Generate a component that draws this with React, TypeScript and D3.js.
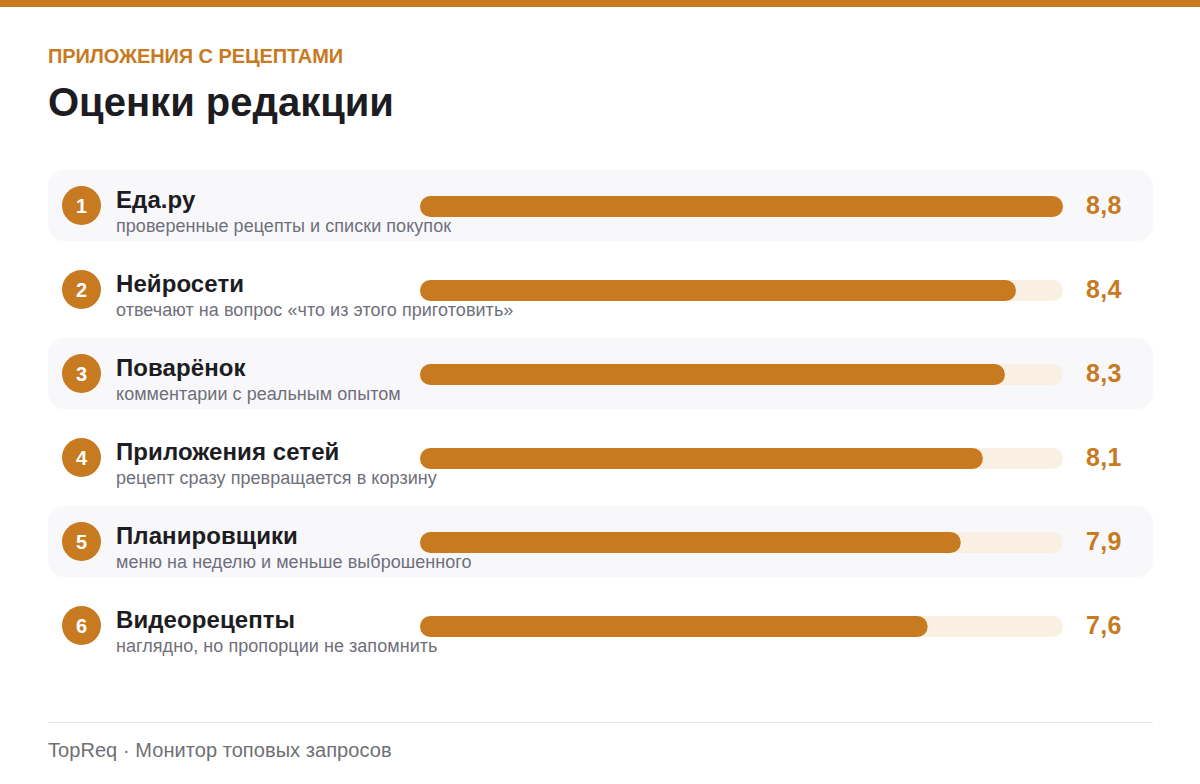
import { scaleBand, scaleLinear } from 'd3'

const names = ['Еда.ру', 'Нейросети', 'Поварёнок', 'Приложения сетей', 'Планировщики', 'Видеорецепты']
const notes = [
  'проверенные рецепты и списки покупок',
  'отвечают на вопрос «что из этого приготовить»',
  'комментарии с реальным опытом',
  'рецепт сразу превращается в корзину',
  'меню на неделю и меньше выброшенного',
  'наглядно, но пропорции не запомнить',
]
// bar lengths, the printed label is rounded
const scores = [8.826, 8.4, 8.3, 8.1, 7.9, 7.6]
const labels = ['8,8', '8,4', '8,3', '8,1', '7,9', '7,6']

const accent = '#c77a1f'
const font = '"Liberation Sans", Arial, sans-serif'

const App = () => {
  const width = 1200
  const height = 784

  const xScale = scaleLinear().domain([3, 8.826]).range([420, 1063])
  const yScale = scaleBand<number>()
    .domain(names.map((_, i) => i))
    .range([170, 674])
    .padding(0)

  return (
    <svg
      width={width}
      height={height}
      style={{ position: 'absolute', left: 0, top: 0, background: '#fff', fontFamily: font }}
    >
      <rect x={0} y={0} width={width} height={7} fill={accent} />
      <text x={48} y={63} fontSize={20} fontWeight={700} letterSpacing={-0.09} fill={accent}>ПРИЛОЖЕНИЯ С РЕЦЕПТАМИ</text>
      <text x={48} y={116} fontSize={40} fontWeight={700} fill="#1c1c22">Оценки редакции</text>

      {names.map((name, i) => {
        const top = yScale(i) || 0
        return (
          <g key={name}>
            {i % 2 === 0 && <rect x={48} y={top} width={1105} height={71} rx={16} fill="#f8f8fb" />}
            <circle cx={81.5} cy={top + 35.5} r={19.5} fill={accent} />
            <text x={81.5} y={top + 42.5} fontSize={20} fontWeight={700} fill="#fff" textAnchor="middle">{i + 1}</text>
            <text x={116} y={top + 38} fontSize={24} fontWeight={700} letterSpacing={0.08} fill="#1c1c22">{name}</text>
            <text x={116} y={top + 62} fontSize={18} letterSpacing={0.05} fill="#6f6f7b">{notes[i]}</text>
            <rect x={420} y={top + 26} width={643} height={21} rx={10.5} fill="#f9efe3" />
            <rect x={420} y={top + 26} width={xScale(scores[i]) - 420} height={21} rx={10.5} fill={accent} />
            <text x={1086} y={top + 44} fontSize={25} fontWeight={700} letterSpacing={0.3} fill={accent}>{labels[i]}</text>
          </g>
        )
      })}

      <line x1={48} x2={1153} y1={722.5} y2={722.5} stroke="#e6e6ea" />
      <text x={48} y={757} fontSize={20} letterSpacing={0.06} fill="#6f6f74">TopReq · Монитор топовых запросов</text>
    </svg>
  )
}

export default App
